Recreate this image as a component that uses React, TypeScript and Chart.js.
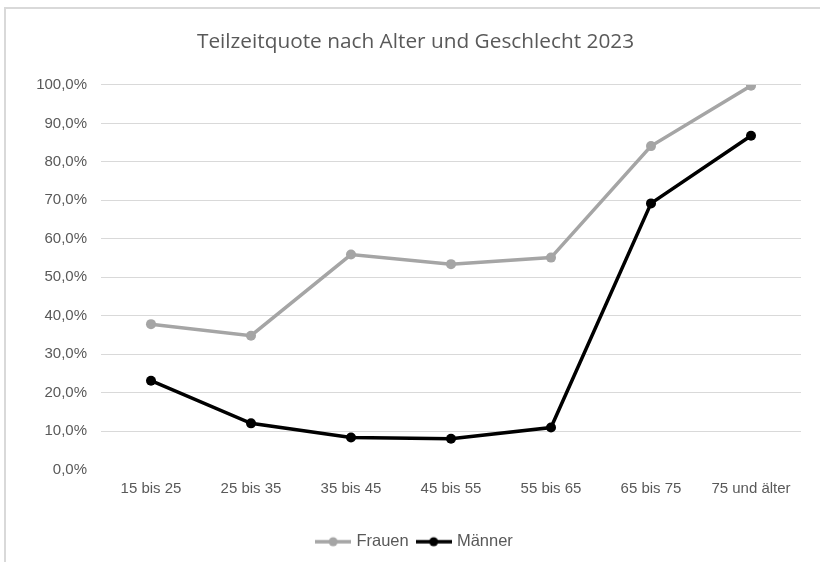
import React, { useEffect, useRef } from "react";
import { Chart, registerables } from "chart.js";

Chart.register(...registerables);

const TITLE = "Teilzeitquote nach Alter und Geschlecht 2023";
const categories = ["15 bis 25", "25 bis 35", "35 bis 45", "45 bis 55", "55 bis 65", "65 bis 75", "75 und älter"];
const frauen = [37.8, 34.8, 55.9, 53.4, 55.1, 84.1, 99.8];
const maenner = [23.1, 12.0, 8.3, 8.0, 10.9, 69.2, 86.8];
const seriesNames = ["Frauen", "Männer"];
const seriesColors = ["#A5A5A5", "#000000"];

function makeMarker(color: string): HTMLCanvasElement {
  const c = document.createElement("canvas");
  c.width = 36;
  c.height = 12;
  const g = c.getContext("2d")!;
  g.strokeStyle = color;
  g.lineWidth = 3.5;
  g.beginPath();
  g.moveTo(0, 6);
  g.lineTo(36, 6);
  g.stroke();
  g.fillStyle = color;
  g.beginPath();
  g.arc(18, 6, 4.5, 0, Math.PI * 2);
  g.fill();
  return c;
}

export default function App() {
  const ref = useRef<HTMLCanvasElement | null>(null);

  useEffect(() => {
    if (!ref.current) return;
    const markers = seriesColors.map((c) => makeMarker(c));
    const chart = new Chart(ref.current, {
      type: "line",
      data: {
        labels: categories,
        datasets: [frauen, maenner].map((d, i) => ({
          label: seriesNames[i],
          data: d,
          borderColor: seriesColors[i],
          backgroundColor: seriesColors[i],
          pointBackgroundColor: seriesColors[i],
          pointBorderColor: seriesColors[i],
          borderWidth: 3.5,
          pointRadius: 5,
          pointBorderWidth: 0,
          tension: 0,
          fill: false,
        })),
      },
      options: {
        animation: false,
        responsive: false,
        layout: { padding: { left: 30, right: 19, top: 0, bottom: 2 } },
        plugins: {
          tooltip: { enabled: false },
          title: {
            display: true,
            text: TITLE,
            color: "#595959",
            font: { family: "'Open Sans'", size: 20.8, weight: "normal" },
            padding: { top: 29.5, bottom: 30.5 },
          },
          legend: {
            position: "bottom",
            labels: {
              usePointStyle: true,
              pointStyleWidth: 30,
              color: "#595959",
              font: { family: "'Liberation Sans'", size: 16.5 },
              padding: 10,
              generateLabels: () =>
                seriesNames.map((n, i) => ({
                  text: n,
                  fillStyle: seriesColors[i],
                  strokeStyle: seriesColors[i],
                  lineWidth: 0,
                  pointStyle: markers[i],
                  datasetIndex: i,
                  hidden: false,
                  fontColor: "#595959",
                })),
            },
          },
        },
        scales: {
          x: {
            offset: true,
            grid: { display: false, drawTicks: false },
            border: { display: false },
            ticks: {
              color: "#595959",
              font: { family: "'Liberation Sans'", size: 15 },
              padding: 10,
              maxRotation: 0,
              autoSkip: false,
            },
            afterFit: (s: any) => {
              s.height = 54;
            },
          },
          y: {
            min: 0,
            max: 100,
            grid: {
              drawTicks: false,
              color: (ctx: any) => (ctx.tick && ctx.tick.value === 0 ? "rgba(0,0,0,0)" : "#D9D9D9"),
              lineWidth: 1,
            },
            border: { display: false },
            ticks: {
              stepSize: 10,
              color: "#595959",
              font: { family: "'Liberation Sans'", size: 15 },
              padding: 14,
              callback: (v: any) => Number(v).toFixed(1).replace(".", ",") + "%",
            },
            afterFit: (s: any) => {
              s.width = 71;
            },
          },
        },
      },
    });
    return () => chart.destroy();
  }, []);

  return (
    <div style={{ position: "absolute", left: 0, top: 0, width: 820, height: 562, background: "#fff" }}>
      <div
        style={{
          position: "absolute",
          left: 4,
          top: 7,
          width: 816,
          height: 555,
          borderLeft: "2px solid #D9D9D9",
          borderTop: "2px solid #D9D9D9",
          boxSizing: "border-box",
        }}
      />
      <canvas ref={ref} width={820} height={562} style={{ position: "absolute", left: 0, top: 0 }} />
    </div>
  );
}
